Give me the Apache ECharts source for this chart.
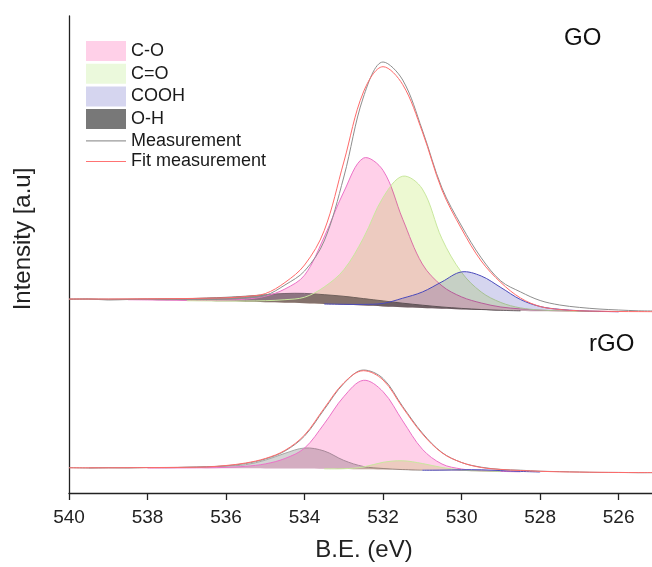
<!DOCTYPE html>
<html>
<head>
<meta charset="utf-8">
<title>O 1s XPS – GO / rGO</title>
<script src="https://cdn.jsdelivr.net/npm/echarts@6/dist/echarts.min.js"></script>
<style>
  html, body { margin: 0; padding: 0; background: #fff; }
  #chart { width: 652px; height: 567px; }
</style>
</head>
<body>
<div id="chart"></div>
<script>
// Binding energy grid (eV), high to low
const energy = [540, 539.5, 539, 538.5, 538, 537.5, 537, 536.5, 536, 535.5, 535, 534.5, 534, 533.5, 533, 532.5,
  532, 531.5, 531, 530.5, 530, 529.5, 529, 528.5, 528, 527.5, 527, 526.5, 526, 525.5, 525];

// GO spectrum (vertically offset), background and fitted components (height above background)
const goBackground = [194, 193.8, 193.5, 193.3, 193, 192.7, 192.3, 192, 191.7, 191.3, 190.8, 190.3, 189.8, 189, 188.2, 187.4,
  186.6, 185.8, 185, 184.2, 183.6, 183, 182.5, 182.1, 181.8, 181.65, 181.5, 181.4, 181.3, 181.25, 181.2];
const goCO = [0, 0, 0, 0, 0.1, 0.2, 0.3, 0.5, 1, 2.5, 6, 13.7, 28, 67, 113, 147.5,
  136, 88, 44, 23, 12.5, 7, 3.5, 2, 1, 0.5, 0.2, 0.1, 0, 0, 0];
const goCdO = [0, 0, 0, 0, 0, 0, 0, 0.1, 0.3, 0.7, 1.5, 3, 6, 17, 35, 67.6,
  109, 131, 119, 70, 37, 18, 8, 3, 1.2, 0.5, 0.2, 0, 0, 0, 0];
const goCOOH = [0, 0, 0, 0, 0, 0, 0, 0, 0, 0, 0, 0, 0, 0, 0.5, 1.2,
  3, 9, 16, 27, 37.5, 34, 23, 11.4, 4.7, 2, 0.8, 0.3, 0, 0, 0];
const goOH = [0, 0.2, 0.3, 0.6, 1, 1.5, 2, 3, 4, 5.5, 7.5, 9.2, 9.8, 9.3, 8.5, 7,
  5.5, 4, 2.8, 1.8, 1, 0.5, 0.2, 0, 0, 0, 0, 0, 0, 0, 0];
const goFit = [194, 194, 194, 194.1, 194.2, 194.3, 194.5, 194.8, 195.2, 196.5, 199.4, 210.5, 228, 262.3, 331, 401,
  426.3, 408.4, 361.2, 303, 264, 232, 210.5, 195, 186.5, 183.5, 182.2, 181.8, 181.5, 181.4, 181.3];
const goMeasured = [193.5, 194, 193, 193.5, 194, 193.4, 194, 194, 194.5, 195.2, 197.5, 208, 222, 252, 316, 396,
  431, 413, 363, 305, 267, 235.2, 212, 201.1, 192.5, 188, 185.6, 184, 183, 182.2, 182];

// rGO spectrum
const rgoBackground = [25.2, 25.15, 25.1, 25.05, 25, 24.95, 24.9, 24.85, 24.8, 24.7, 24.6, 24.5, 24.4, 24.2, 24, 23.7,
  23.5, 23.1, 22.8, 22.4, 22, 21.7, 21.4, 21.2, 21, 20.85, 20.7, 20.6, 20.5, 20.45, 20.4];
const rgoCO = [0, 0, 0, 0, 0, 0.1, 0.2, 0.4, 0.8, 2, 4.5, 10, 20.5, 45, 72.4, 89,
  77.8, 49, 21, 6.6, 2, 0.5, 0.2, 0, 0, 0, 0, 0, 0, 0, 0];
const rgoCdO = [0, 0, 0, 0, 0, 0, 0, 0, 0, 0, 0, 0, 0, 0, 0.3, 2.3,
  7.2, 9.1, 6.7, 3.1, 1, 0.3, 0, 0, 0, 0, 0, 0, 0, 0, 0];
const rgoCOOH = [0, 0, 0, 0, 0, 0, 0, 0, 0, 0, 0, 0, 0, 0, 0, 0,
  0, 0, 0, 0.5, 1.2, 1.5, 1, 0.4, 0, 0, 0, 0, 0, 0, 0];
const rgoOH = [0, 0, 0.1, 0.2, 0.4, 0.6, 0.8, 1.3, 2, 3.6, 8.2, 15.2, 20.6, 17.8, 8.6, 2.8,
  1, 0.3, 0, 0, 0, 0, 0, 0, 0, 0, 0, 0, 0, 0, 0];
const rgoFit = [25.2, 25.2, 25.2, 25.3, 25.4, 25.5, 25.7, 26, 27.5, 30, 34.5, 42.6, 58, 84.7, 110.2, 122.3,
  113, 85.4, 59.1, 40.2, 30.5, 25.5, 23.5, 22.5, 21.7, 21.2, 20.9, 20.7, 20.5, 20.4, 20.4];
const rgoMeasured = [25.4, 25, 25.3, 25.1, 25.5, 25.3, 25.8, 26.3, 27.2, 29.5, 34, 42, 57, 83.5, 109.5, 123,
  114.5, 86.5, 60, 40.5, 30.5, 25.8, 23.6, 22.8, 21.8, 21.4, 21, 20.6, 20.6, 20.3, 20.4];

// Axis ticks
const energyTicks = [540, 538, 536, 534, 532, 530, 528, 526];

const FONT = '"Liberation Sans", Arial, sans-serif';

// Filled peak component: area between the background and background + component.
function peakSeries(name, bg, comp, fill, stroke) {
  // keep only the span where the component is non-zero (plus one point each side)
  let first = comp.findIndex(v => v > 0);
  let last = comp.length - 1 - comp.slice().reverse().findIndex(v => v > 0);
  first = Math.max(0, first - 1);
  last = Math.min(comp.length - 1, last + 1);
  return {
    type: 'custom',
    name: name,
    coordinateSystem: 'cartesian2d',
    clip: true,
    silent: true,
    data: energy.map((e, i) => [e, bg[i] + comp[i], bg[i]]),
    encode: { x: 0, y: [1, 2] },
    renderItem: function (params, api) {
      if (params.dataIndex !== 0) return null;
      const top = [];
      const bottom = [];
      for (let i = first; i <= last; i++) {
        top.push(api.coord([energy[i], bg[i] + comp[i]]));
        bottom.push(api.coord([energy[i], bg[i]]));
      }
      const poly = top.concat(bottom.slice(1, -1).reverse());
      return {
        type: 'group',
        children: [
          { type: 'polygon', name: 'peakFill', shape: { points: poly, smooth: 0.35 },
            style: { fill: fill } },
          { type: 'polyline', shape: { points: top, smooth: 0.35 },
            style: { stroke: stroke, lineWidth: 1, fill: null } }
        ]
      };
    }
  };
}

function curveSeries(name, values, color, z) {
  return {
    type: 'line',
    name: name,
    data: energy.map((e, i) => [e, values[i]]),
    showSymbol: false,
    smooth: 0.35,
    silent: true,
    z: z,
    lineStyle: { color: color, width: 1 },
    itemStyle: { color: color }
  };
}

const chart = echarts.init(document.getElementById('chart'), null, { renderer: 'canvas' });

const option = {
  backgroundColor: '#ffffff',
  animation: false,
  grid: { left: 69, right: 0, top: 16, bottom: 74, containLabel: false },
  xAxis: {
    type: 'value',
    inverse: true,
    min: 525.15,
    max: 540,
    name: 'B.E. (eV)',
    nameLocation: 'middle',
    nameGap: 45,
    nameTextStyle: { fontSize: 24, fontFamily: FONT, color: '#222', padding: [0, 0, 0, 7] },
    axisLine: { onZero: false, lineStyle: { color: '#222', width: 1.3 } },
    axisTick: { customValues: energyTicks, length: 7, lineStyle: { color: '#222', width: 1.3 } },
    axisLabel: { customValues: energyTicks, margin: 15, fontSize: 19, fontFamily: FONT, color: '#222' },
    splitLine: { show: false }
  },
  yAxis: {
    type: 'value',
    min: 0,
    max: 477,
    axisLine: { show: true, lineStyle: { color: '#222', width: 1.3 } },
    axisTick: { show: false },
    axisLabel: { show: false },
    splitLine: { show: false }
  },
  legend: {
    left: 86,
    top: 41,
    padding: 0,
    orient: 'vertical',
    itemWidth: 40,
    itemHeight: 20,
    itemGap: 2.7,
    selectedMode: false,
    textStyle: { fontSize: 18, fontFamily: FONT, color: '#1a1a1a' },
    data: [
      { name: 'C-O', icon: 'rect', itemStyle: { color: '#ffd0e8' } },
      { name: 'C=O', icon: 'rect', itemStyle: { color: '#ebf9dc' } },
      { name: 'COOH', icon: 'rect', itemStyle: { color: '#d5d5ef' } },
      { name: 'O-H', icon: 'rect', itemStyle: { color: '#787878' } },
      { name: 'Measurement', icon: 'path://M0,0H40V1.2H0Z', itemStyle: { color: '#9a9a9a' } },
      { name: 'Fit measurement', icon: 'path://M0,0H40V1.2H0Z', itemStyle: { color: '#ff7373' } }
    ]
  },
  graphic: [
    { type: 'text', x: 23, y: 239, rotation: Math.PI / 2,
      style: { text: 'Intensity [a.u]', fontSize: 24, fontFamily: FONT, fill: '#222', align: 'center', verticalAlign: 'middle' } },
    { type: 'text', x: 564, y: 38,
      style: { text: 'GO', fontSize: 24, fontFamily: FONT, fill: '#111', align: 'left', verticalAlign: 'middle' } },
    { type: 'text', x: 589, y: 344,
      style: { text: 'rGO', fontSize: 24, fontFamily: FONT, fill: '#111', align: 'left', verticalAlign: 'middle' } }
  ],
  series: [
    // GO components
    peakSeries('O-H', goBackground, goOH, '#8e8e8e', '#7a7a7a'),
    peakSeries('C-O', goBackground, goCO, '#ffd0e9', '#ec72c8'),
    peakSeries('C=O', goBackground, goCdO, '#edf9d2', '#c9e89e'),
    peakSeries('COOH', goBackground, goCOOH, '#d5d5ef', '#4a4abc'),
    // rGO components
    peakSeries('O-H', rgoBackground, rgoOH, '#d4d4d4', '#a8a8a8'),
    peakSeries('C-O', rgoBackground, rgoCO, '#ffd0e9', '#ec72c8'),
    peakSeries('C=O', rgoBackground, rgoCdO, '#edf9d2', '#c9e89e'),
    peakSeries('COOH', rgoBackground, rgoCOOH, '#d5d5ef', '#4a4abc'),
    // measured and fitted envelopes
    curveSeries('Measurement', goMeasured, '#8e8e8e', 5),
    curveSeries('Measurement', rgoMeasured, '#8e8e8e', 5),
    curveSeries('Fit measurement', goFit, '#ff6a6a', 6),
    curveSeries('Fit measurement', rgoFit, '#ff6a6a', 6)
  ]
};

chart.setOption(option);

// Overlapping peak fills are multiplied so the overlaps darken, as in the fit software.
const zr = chart.getZr();
zr.storage.getDisplayList(true).forEach(function (el) {
  if (el.name === 'peakFill') {
    el.style.blend = 'multiply';
    el.markRedraw();
  }
});
zr.refreshImmediately();
</script>
</body>
</html>
